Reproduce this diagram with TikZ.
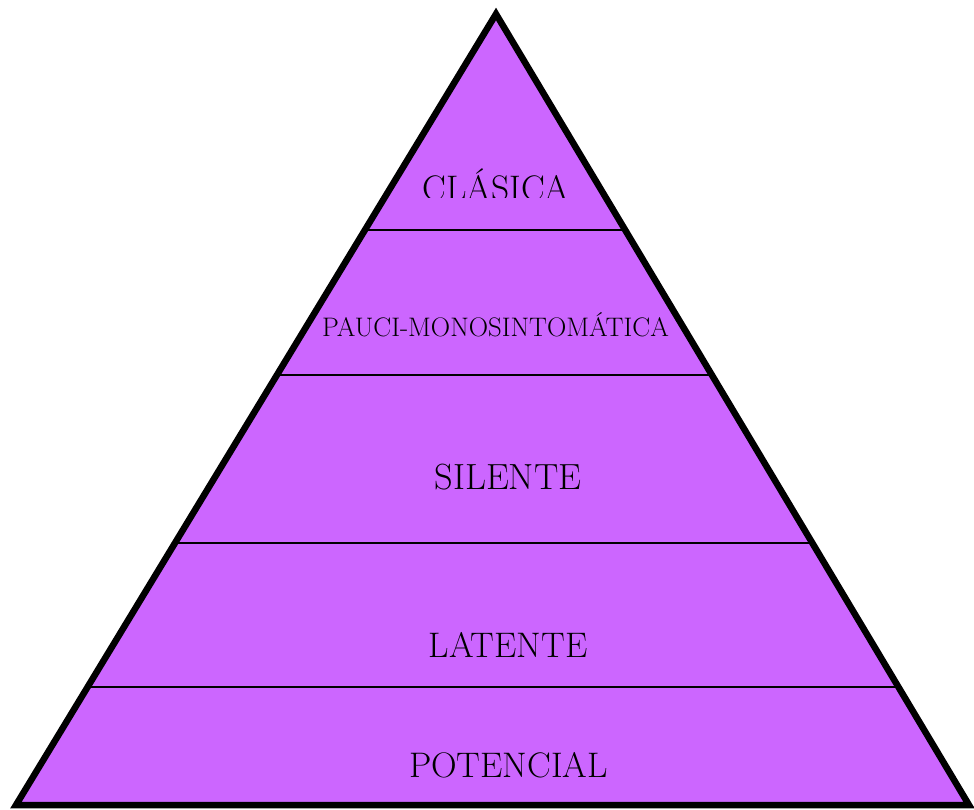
\documentclass[tikz,border=0pt]{standalone}
\usetikzlibrary{calc}
\definecolor{pyr}{RGB}{204,102,255}
\tikzset{
  lbl/.style={anchor=base, inner sep=0pt, text=black},
  sep/.style={draw=black, line width=1.8pt},
  border/.style={draw=black, line width=6.5pt, line join=miter}
}
\begin{document}
\begin{tikzpicture}[x=1pt,y=-1pt]
\useasboundingbox (0,0) rectangle (974,809);
\coordinate (apex) at (496,14);
\coordinate (bl) at (16,805);
\coordinate (br) at (969,805);
\fill[pyr] (apex) -- (bl) -- (br) -- cycle;
% separators
\foreach \y/\n in {230/a,375/b,543/c,687/d}{
  \coordinate (l\n) at ($(apex)!{(\y-14)/791}!(bl)$);
  \coordinate (r\n) at ($(apex)!{(\y-14)/791}!(br)$);
}
\draw[sep] (la) -- (ra);
\draw[sep] (lb) -- (rb);
\draw[sep] (lc) -- (rc);
\draw[sep] (ld) -- (rd);
\draw[border] (apex) -- (bl) -- (br) -- cycle;
\begin{scope}
\clip (0,0) rectangle (974,197);
\node[lbl, font=\fontsize{35.5}{40}\selectfont] (t1) at (496,200) {CLÁSICA};
\end{scope}
\node[lbl, font=\fontsize{26.8}{30}\selectfont] (t2) at (495.5,336) {PAUCI-MONOSINTOMÁTICA};
\node[lbl, font=\fontsize{36.4}{40}\selectfont] (t3) at (508,489) {SILENTE};
\node[lbl, font=\fontsize{35.5}{40}\selectfont] (t4) at (508,657) {LATENTE};
\node[lbl, font=\fontsize{35.5}{40}\selectfont] (t5) at (508.5,777) {POTENCIAL};
\end{tikzpicture}
\end{document}
